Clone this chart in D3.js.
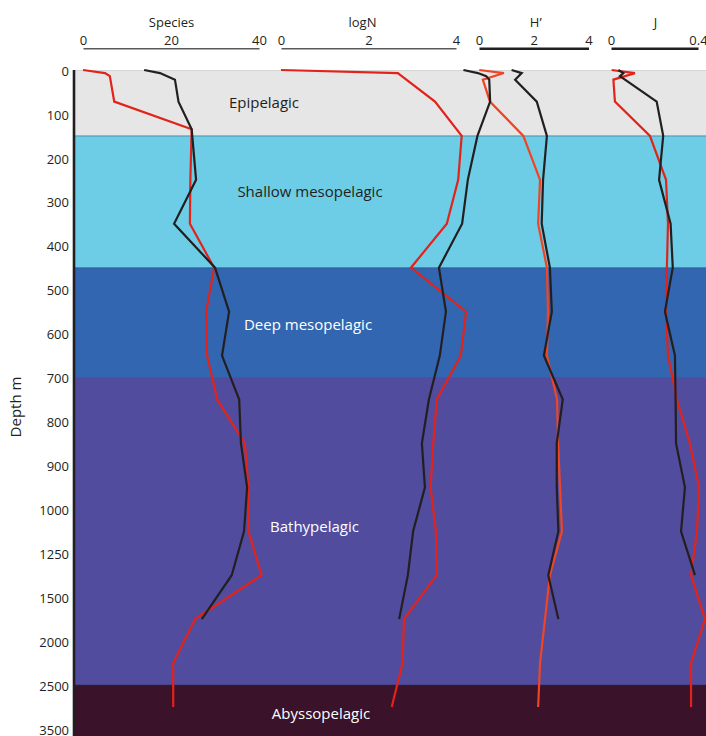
<!DOCTYPE html>
<html>
<head>
<meta charset="utf-8">
<script src="https://cdn.jsdelivr.net/npm/d3@7"></script>
<style>
  html, body { margin: 0; padding: 0; background: #ffffff; }
  svg { display: block; font-family: "Open Sans", "Noto Sans", sans-serif; }
</style>
</head>
<body>
<svg id="chart" width="706" height="736"></svg>
<script>
// ---------- DATA ----------
const depthTicks = [0, 100, 200, 300, 400, 500, 600, 700, 800, 900, 1000, 1250, 1500, 2000, 2500, 3500];

const zoneNames   = ["Epipelagic", "Shallow mesopelagic", "Deep mesopelagic", "Bathypelagic", "Abyssopelagic"];
const zoneTops    = [0, 150, 450, 700, 2500];
const zoneBottoms = [150, 450, 700, 2500, 3700];
const zoneColors  = ["#e6e6e6", "#6dcde6", "#3366b0", "#524c9e", "#3a1229"];
const zoneTextColors = ["#231f20", "#231f20", "#ffffff", "#ffffff", "#ffffff"];
const zoneLabelDepths = [75, 278, 580, 1100, 3160];

const depths = [0, 7, 14, 22, 72, 135, 150, 250, 350, 450, 550, 650, 750, 850, 950, 1125, 1375, 1750, 2250, 3000];

// red series (A) and black series (B) for each panel
const speciesA = [0, 5.0, 6.1, null, 7.1, 24.7, null, 24.4, 24.3, 29.8, 28.0, 28.2, 30.5, 36.8, 37.6, 37.6, 40.6, 25.5, 20.5, 20.5];
const speciesB = [13.9, 17.5, null, 20.9, 21.7, 24.7, null, 25.7, 20.7, 30.0, 33.2, 31.6, 35.5, 35.9, 37.3, 36.6, 33.8, 27.0, null, null];

const logNA = [0, 2.67, null, null, 3.52, null, 4.13, 4.05, 3.79, 2.97, 4.23, 4.11, 3.56, 3.48, 3.42, 3.54, 3.56, 2.81, 2.78, 2.53];
const logNB = [4.17, 4.50, 4.69, 4.76, 4.78, null, 4.49, 4.27, 4.14, 3.61, 3.77, 3.63, 3.38, 3.22, 3.29, 3.02, 2.90, 2.70, null, null];

const hA = [0.01, 0.91, null, 0.14, 0.40, null, 1.62, 2.23, 2.16, 2.48, 2.52, 2.48, 2.85, 2.89, 2.96, 3.03, 2.59, 2.41, 2.23, 2.16];
const hB = [1.19, 1.56, null, 1.32, 2.11, null, 2.48, 2.34, 2.29, 2.59, 2.66, 2.37, 3.06, 2.84, 2.84, 2.90, 2.53, 2.90, null, null];

const jA = [0.003, 0.110, null, 0.011, 0.018, null, 0.179, 0.253, 0.262, 0.257, 0.253, 0.262, 0.303, 0.363, 0.405, 0.395, 0.368, 0.432, 0.368, 0.368];
const jB = [0.034, 0.057, 0.041, null, 0.210, null, 0.240, 0.221, 0.274, 0.284, 0.248, 0.294, 0.297, 0.299, 0.340, 0.322, 0.386, null, null, null];

const panelTitles = ["Species", "logN", "H\u2019", "J"];
const panelDomains = [[0, 40], [0, 4], [0, 4], [0, 0.4]];
const panelTicks = [[0, 20, 40], [0, 2, 4], [0, 2, 4], [0, 0.4]];

// ---------- LAYOUT ----------
const svg = d3.select("#chart");
const W = 706, H = 736;
const axisX = 74;
const yTop = 70, yStep = 43.93;

const y = d3.scaleLinear()
  .domain(depthTicks)
  .range(depthTicks.map((d, i) => yTop + i * yStep));

const panelRanges = [[83, 259], [281, 456], [479, 588.5], [611, 698]];
const panelTitleDx = [0.5, -6, 2, 1];
const panelAxisStyle = [
  { stroke: "#58595b", width: 1.4 },
  { stroke: "#58595b", width: 1.4 },
  { stroke: "#231f20", width: 2.6 },
  { stroke: "#231f20", width: 2.6 }
];
const redColors = ["#e2231a", "#e2231a", "#ef4524", "#e2231a"];
const blackColor = "#231f20";

const xScales = panelDomains.map((dom, i) => d3.scaleLinear().domain(dom).range(panelRanges[i]));

// ---------- ZONES ----------
const zones = zoneNames.map((n, i) => ({ name: n, top: zoneTops[i], bottom: zoneBottoms[i], color: zoneColors[i], text: zoneTextColors[i], labelDepth: zoneLabelDepths[i] }));

svg.append("g").selectAll("rect").data(zones).join("rect")
  .attr("x", axisX)
  .attr("y", d => y(d.top))
  .attr("width", W - axisX)
  .attr("height", d => Math.min(y(d.bottom), H) - y(d.top))
  .attr("fill", d => d.color);

// boundary lines
svg.append("g").selectAll("line").data(zones.slice(1)).join("line")
  .attr("x1", axisX).attr("x2", W)
  .attr("y1", d => y(d.top)).attr("y2", d => y(d.top))
  .attr("stroke", "rgba(30,40,70,0.45)").attr("stroke-width", 1);
svg.append("line")
  .attr("x1", axisX).attr("x2", W)
  .attr("y1", y(0) + 0.5).attr("y2", y(0) + 0.5)
  .attr("stroke", "#d6d6d6").attr("stroke-width", 1);

// zone labels
const zoneLabelX = [264, 310, 308, 314.5, 321];
svg.append("g").selectAll("text").data(zones).join("text")
  .attr("x", (d, i) => zoneLabelX[i])
  .attr("y", d => y(d.labelDepth))
  .attr("dy", "0.35em")
  .attr("text-anchor", "middle")
  .attr("font-size", 15)
  .attr("fill", d => d.text)
  .text(d => d.name);

// ---------- Y AXIS ----------
const yAxis = d3.axisLeft(y).tickValues(depthTicks).tickSize(0).tickPadding(5).tickFormat(d3.format("d"));
const gy = svg.append("g").attr("transform", `translate(${axisX},0)`).call(yAxis);
gy.select(".domain").remove();
gy.selectAll("text").attr("font-size", 13).attr("fill", "#231f20").attr("font-family", "Open Sans").attr("dy", "0.4em");
svg.append("line")
  .attr("x1", axisX).attr("x2", axisX)
  .attr("y1", y(0)).attr("y2", H)
  .attr("stroke", "#231f20").attr("stroke-width", 2.6);

svg.append("text")
  .attr("transform", `translate(21,${407}) rotate(-90)`)
  .attr("text-anchor", "middle")
  .attr("font-size", 15)
  .attr("fill", "#231f20")
  .text("Depth m");

// ---------- TOP AXES ----------
panelTitles.forEach((t, i) => {
  const xs = xScales[i];
  const fmt = i === 3 ? (d => d === 0 ? "0" : d3.format(".1f")(d)) : d3.format("d");
  const ax = d3.axisTop(xs).tickValues(panelTicks[i]).tickSize(0).tickSizeOuter(0).tickPadding(3).tickFormat(fmt);
  const g = svg.append("g").attr("transform", "translate(0,48.3)").call(ax);
  g.select(".domain").attr("stroke", panelAxisStyle[i].stroke).attr("stroke-width", panelAxisStyle[i].width);
  g.selectAll("text").attr("font-size", 13).attr("fill", "#231f20").attr("font-family", "Open Sans").attr("dy", "0em");
  const mid = (xs.range()[0] + xs.range()[1]) / 2;
  svg.append("text")
    .attr("x", mid + panelTitleDx[i])
    .attr("y", 26.7)
    .attr("text-anchor", "middle")
    .attr("font-size", 13)
    .attr("fill", "#231f20")
    .text(t);
});

// ---------- LINES ----------
const seriesA = [speciesA, logNA, hA, jA];
const seriesB = [speciesB, logNB, hB, jB];

function pts(vals) {
  return depths.map((d, k) => ({ depth: d, v: vals[k] })).filter(p => p.v !== null && p.v !== undefined);
}

const gLines = svg.append("g");
seriesA.forEach((vals, i) => {
  const line = d3.line().x(p => xScales[i](p.v)).y(p => y(p.depth));
  gLines.append("path")
    .attr("d", line(pts(vals)))
    .attr("fill", "none")
    .attr("stroke", redColors[i])
    .attr("stroke-width", 2.2)
    .attr("stroke-linejoin", "miter");
});
seriesB.forEach((vals, i) => {
  const line = d3.line().x(p => xScales[i](p.v)).y(p => y(p.depth));
  gLines.append("path")
    .attr("d", line(pts(vals)))
    .attr("fill", "none")
    .attr("stroke", blackColor)
    .attr("stroke-width", 2.2)
    .attr("stroke-linejoin", "miter");
});
</script>
</body>
</html>
